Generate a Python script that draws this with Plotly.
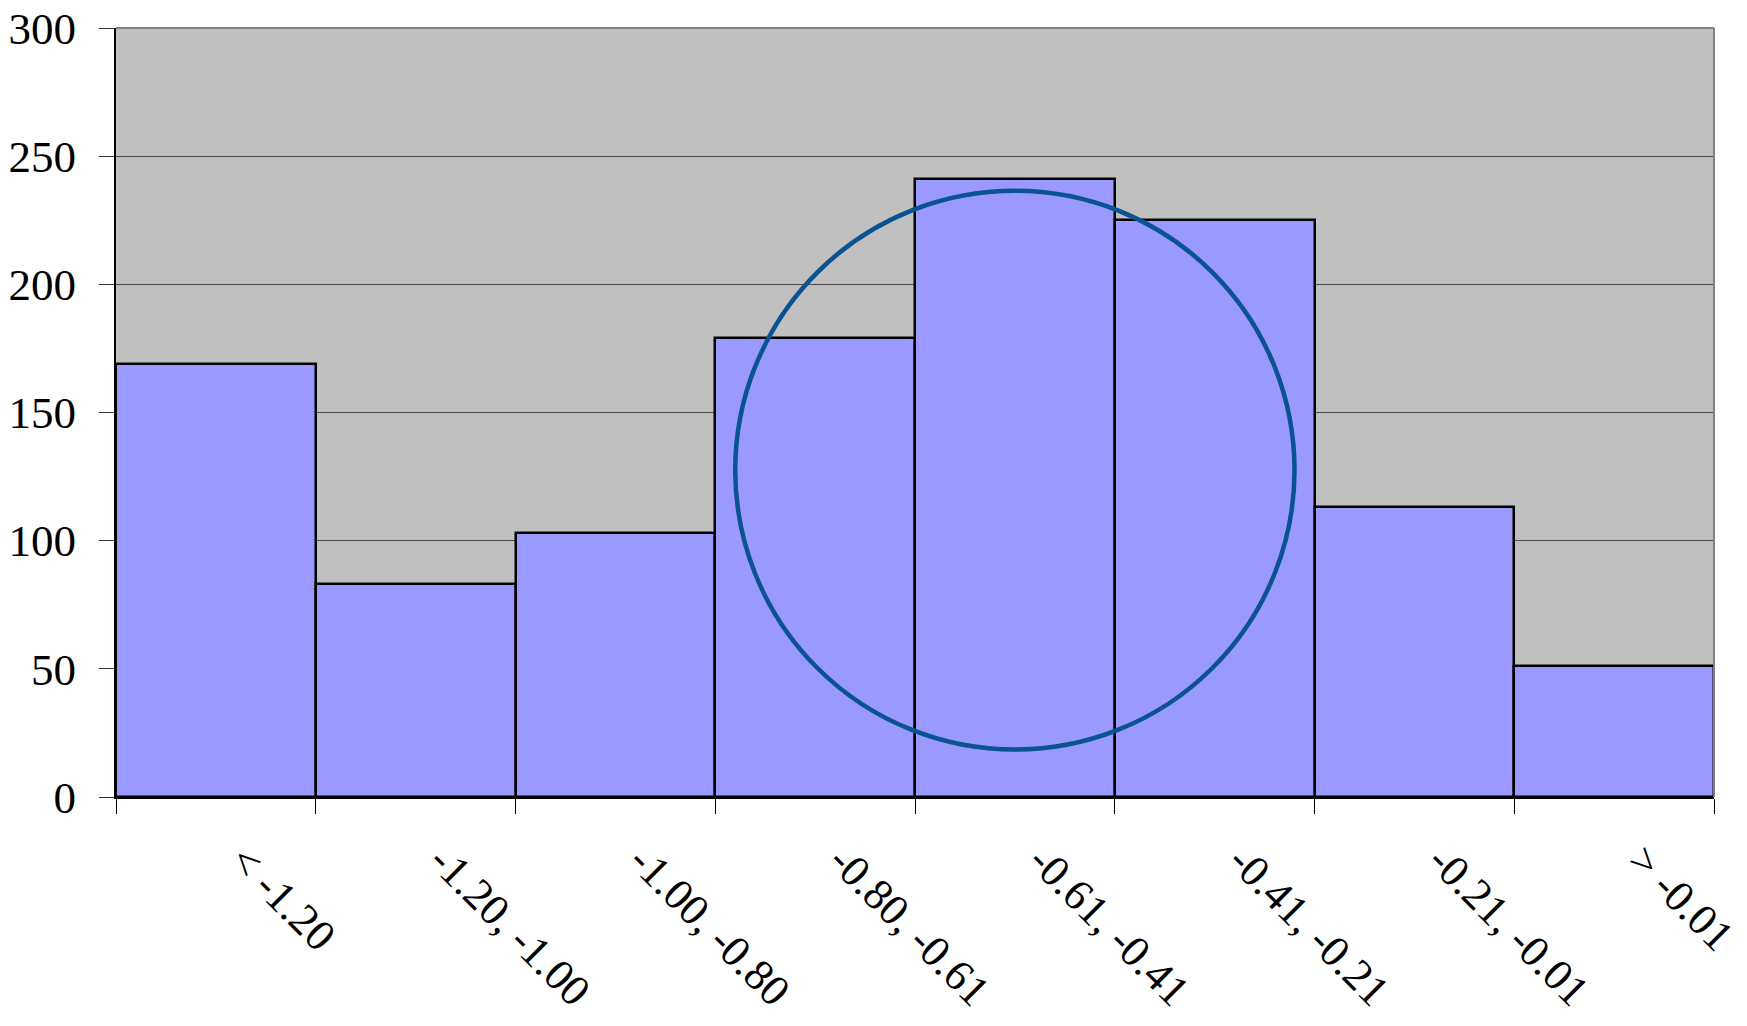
import plotly.graph_objects as go

# Bin labels and counts for the histogram
bins = ["< -1.20", "-1.20, -1.00", "-1.00, -0.80", "-0.80, -0.61",
        "-0.61, -0.41", "-0.41, -0.21", "-0.21, -0.01", "> -0.01"]
counts = [169, 83, 103, 179, 241, 225, 113, 51]
y_ticks = [0, 50, 100, 150, 200, 250, 300]

# Highlight ring around the central bins (data coordinates)
ring_center_x = 4.0
ring_center_y = 127.5
ring_radius_x = 1.40
ring_radius_y = 109.0

FONT = "Liberation Serif"

fig = go.Figure(
    go.Bar(
        x=bins,
        y=counts,
        marker=dict(color="#9999FF", line=dict(color="#000000", width=2.5)),
        width=1.0,
        hoverinfo="x+y",
    )
)

fig.update_layout(
    width=1747,
    height=1026,
    margin=dict(l=116, r=33, t=28, b=229, autoexpand=False),
    paper_bgcolor="#FFFFFF",
    plot_bgcolor="#C0C0C0",
    bargap=0,
    showlegend=False,
    font=dict(family=FONT, size=45, color="#000000"),
)

fig.update_xaxes(
    type="category",
    range=[-0.5, len(bins) - 0.5],
    automargin=False,
    tickson="boundaries",
    ticks="outside",
    ticklen=15,
    tickwidth=1,
    tickcolor="#000000",
    tickangle=45,
    ticklabelstandoff=18,
    ticklabelshift=27,
    ticklabeloverflow="allow",
    tickfont=dict(family=FONT, size=44, color="#000000"),
    showline=True,
    linecolor="#000000",
    linewidth=2,
    showgrid=False,
    zeroline=False,
)

fig.update_yaxes(
    range=[0, 300],
    automargin=False,
    tickvals=y_ticks,
    ticktext=[str(v) for v in y_ticks],
    ticks="outside",
    ticklen=15,
    tickwidth=1,
    tickcolor="#333333",
    ticklabelstandoff=14,
    ticklabeloverflow="allow",
    tickfont=dict(family=FONT, size=45, color="#000000"),
    showline=True,
    linecolor="#000000",
    linewidth=2,
    showgrid=True,
    gridcolor="#4A4A4A",
    gridwidth=1,
    zeroline=False,
)

# Gray frame on the top and right edges of the plot area
fig.add_shape(type="line", xref="x domain", yref="y domain",
              x0=0, x1=1, y0=1, y1=1,
              line=dict(color="#808080", width=2), layer="above")
fig.add_shape(type="line", xref="x domain", yref="y domain",
              x0=1, x1=1, y0=0, y1=1,
              line=dict(color="#808080", width=2), layer="above")

# Ring drawn over the bars
fig.add_shape(
    type="circle",
    xref="x", yref="y",
    x0=ring_center_x - ring_radius_x, x1=ring_center_x + ring_radius_x,
    y0=ring_center_y - ring_radius_y, y1=ring_center_y + ring_radius_y,
    line=dict(color="#0A5291", width=4.5),
    fillcolor="rgba(0,0,0,0)",
    layer="above",
)

fig.write_html("out.html")
